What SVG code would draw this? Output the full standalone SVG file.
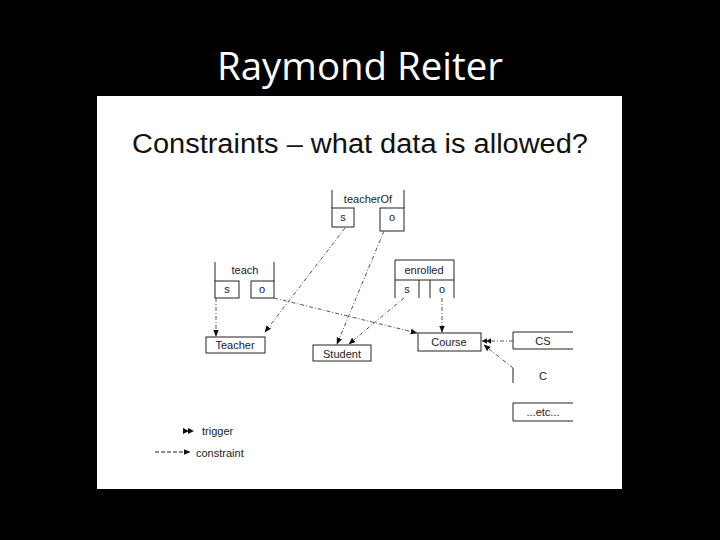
<svg xmlns="http://www.w3.org/2000/svg" width="720" height="540" viewBox="0 0 720 540">
<defs>
<marker id="ah" viewBox="0 0 10 10" refX="9" refY="5" markerWidth="7" markerHeight="7" orient="auto" markerUnits="userSpaceOnUse">
<path d="M0,1 L10,5 L0,9 Z" fill="#111"/>
</marker>
<marker id="tr" viewBox="0 0 14 10" refX="13" refY="5" markerWidth="10" markerHeight="7" orient="auto" markerUnits="userSpaceOnUse">
<path d="M0,1 L7,5 L0,9 Z M6,1 L13,5 L6,9 Z" fill="#111"/>
</marker>
</defs>
<style>
.box{fill:#fff;stroke:#222;stroke-width:1}
.ln{fill:none;stroke:#222;stroke-width:1}
.lbl{font-family:"Liberation Sans",Arial,sans-serif;font-size:11px;fill:#222;text-anchor:middle}
.leg{font-family:"Liberation Sans",Arial,sans-serif;font-size:11px;fill:#222}
.c{fill:none;stroke:#555;stroke-width:1;stroke-dasharray:4,2,1,2}
</style>
<rect x="0" y="0" width="720" height="540" fill="#000"/>
<text x="360" y="80" font-family="'Open Sans','Liberation Sans',sans-serif" font-size="38" fill="#fff" text-anchor="middle" textLength="286" lengthAdjust="spacingAndGlyphs">Raymond Reiter</text>
<rect x="97" y="96" width="525" height="393" fill="#fff"/>
<text x="360" y="153" font-family="'Liberation Sans',Arial,sans-serif" font-size="27" fill="#111" text-anchor="middle" textLength="456" lengthAdjust="spacingAndGlyphs">Constraints – what data is allowed?</text>

<g id="teacherOf">
<path class="ln" d="M332,190 V208 M404,190 V208"/>
<text class="lbl" x="368" y="203">teacherOf</text>
<rect class="box" x="332" y="208" width="22" height="19"/>
<text class="lbl" x="343" y="221">s</text>
<rect class="box" x="380" y="208" width="24" height="23"/>
<text class="lbl" x="392" y="221">o</text>
</g>
<g id="teach">
<path class="ln" d="M215,262 V281 M274,262 V281"/>
<text class="lbl" x="245" y="274">teach</text>
<rect class="box" x="215" y="281" width="24" height="17"/>
<text class="lbl" x="227" y="293">s</text>
<rect class="box" x="251" y="281" width="23" height="17"/>
<text class="lbl" x="262" y="293">o</text>
</g>
<g id="enrolled">
<path class="ln" d="M395,298 V260 H454 V298 M395,280 H454 M419,280 V298 M430,280 V298"/>
<text class="lbl" x="424" y="274">enrolled</text>
<text class="lbl" x="407" y="293">s</text>
<text class="lbl" x="442" y="293">o</text>
</g>
<g id="Teacher">
<rect class="box" x="206" y="337" width="59" height="16"/>
<text class="lbl" x="235" y="349">Teacher</text>
</g>
<g id="Student">
<rect class="box" x="313" y="345" width="58" height="16"/>
<text class="lbl" x="342" y="358">Student</text>
</g>
<g id="Course">
<rect class="box" x="418" y="333" width="63" height="18"/>
<text class="lbl" x="449" y="346">Course</text>
</g>
<g id="CS">
<path class="ln" d="M573,332 H513 V349 H573"/>
<text class="lbl" x="543" y="345">CS</text>
</g>
<g id="C">
<path class="ln" d="M513,368 V383"/>
<text class="lbl" x="543" y="380">C</text>
</g>
<g id="etc">
<path class="ln" d="M573,403 H513 V421 H573"/>
<text class="lbl" x="543" y="416">...etc...</text>
</g>

<g id="connectors">
<path class="c" d="M216,298 V336" marker-end="url(#ah)"/>
<path class="c" d="M345,228 L265,332" marker-end="url(#ah)"/>
<path class="c" d="M384,231 L337,344" marker-end="url(#ah)"/>
<path class="c" d="M274,298 L417,333" marker-end="url(#ah)"/>
<path class="c" d="M404,298 L349,344" marker-end="url(#ah)"/>
<path class="c" d="M442,298 V332" marker-end="url(#ah)"/>
<path class="c" d="M513,341 H482" marker-end="url(#tr)"/>
<path class="c" d="M513,368 L484,345" marker-end="url(#ah)"/>
</g>

<g id="legend">
<path d="M183,428 L189,431 L183,434 Z M188,428 L194,431 L188,434 Z" fill="#111"/>
<text class="leg" x="202" y="435">trigger</text>
<path d="M155,452 H190" stroke="#222" stroke-width="1" stroke-dasharray="4,2" marker-end="url(#ah)"/>
<text class="leg" x="196" y="457">constraint</text>
</g>
</svg>
